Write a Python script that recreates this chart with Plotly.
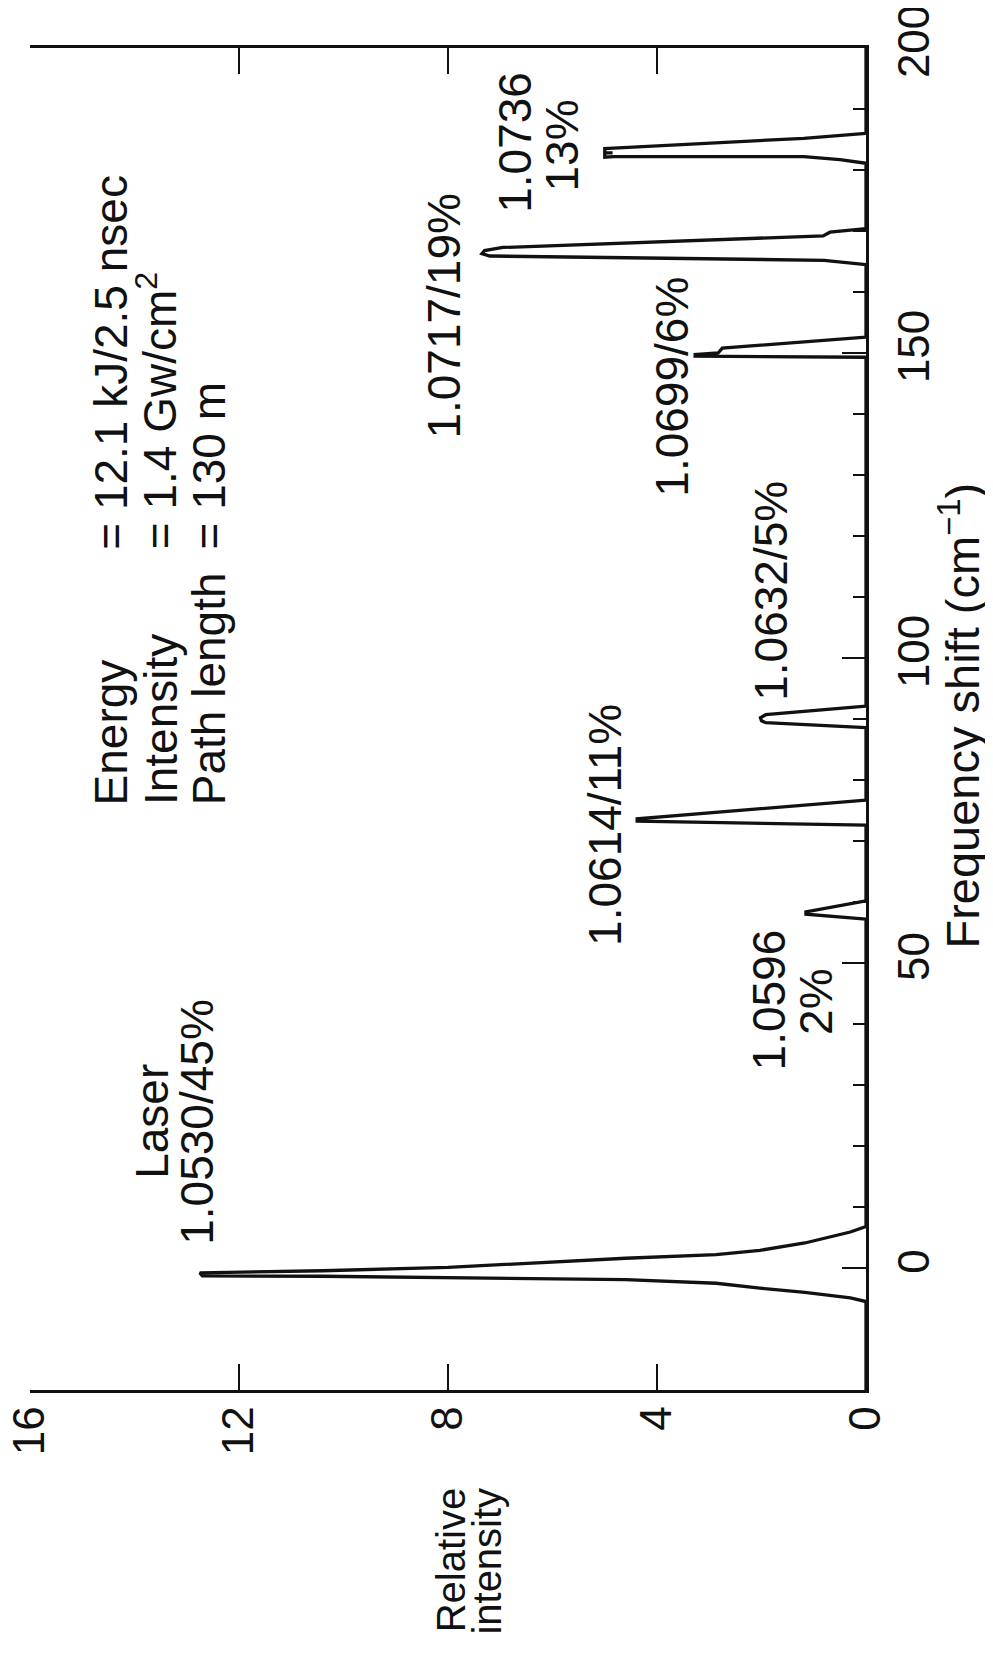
import plotly.graph_objects as go

# ---------------- data ----------------
# Spectrum trace: frequency shift (cm^-1) and relative intensity
freq = [-20, -5.5, -4.9, -4.0, -3.3, -2.5, -1.9, -1.5, -1.35, -1.3, -0.8, -0.45, 0.1, 1.6, 2.2, 2.9, 4.1, 5.9, 6.8,
        57.2, 58.0, 58.4, 60.2,
        72.6, 73.25, 73.65, 76.7,
        88.6, 89.4, 89.7, 90.2, 90.7, 92.1,
        149.3, 149.5, 149.75, 150.0, 150.8, 152.6,
        164.5, 165.2, 165.9, 166.3, 166.8, 167.3, 169.2, 169.8, 170.4,
        181.1, 181.7, 182.2, 182.2, 182.1, 182.8, 182.8, 182.8, 183.5, 183.6, 185.2, 186.0,
        200]
intensity = [0, 0, 0.3, 1.17, 2.03, 2.87, 4.6, 8.0, 10.4, 12.7, 12.75, 10.4, 8.0, 4.6, 2.87, 2.03, 1.17, 0.3, 0,
             0, 1.15, 1.15, 0,
             0, 4.38, 4.38, 0,
             0, 1.92, 2.0, 2.02, 1.92, 0,
             0, 3.27, 3.27, 2.83, 2.75, 0,
             0, 0.8, 7.2, 7.35, 7.3, 6.95, 0.82, 0.69, 0,
             0, 0.5, 1.19, 4.83, 5.0, 5.0, 4.85, 5.0, 5.0, 4.83, 1.19, 0,
             0]

intensity_ticks = [0, 4, 8, 12, 16]
intensity_ticklabels = ["0", "4", "8", "12", "16"]
freq_ticks = [0, 50, 100, 150, 200]
freq_ticklabels = ["0", "50", "100", "150", "200"]
freq_minor_ticks = [10, 20, 30, 40, 60, 70, 80, 90, 110, 120, 130, 140, 160, 170, 180, 190]

condition_labels = ["Energy", "Intensity", "Path length"]
condition_values = ["= 12.1 kJ/2.5 nsec", "= 1.4 Gw/cm<sup>2</sup>", "= 130 m"]

line_labels = ["Laser", "1.0530/45%", "1.0596", "2%", "1.0614/11%", "1.0632/5%",
               "1.0699/6%", "1.0717/19%", "1.0736", "13%"]

x_title = "Frequency shift (cm<sup>−1</sup>)"
y_title_lines = ["Relative", "intensity"]

# ---------------- figure ----------------
FONT = "Liberation Sans, Arial, Helvetica, sans-serif"
INK = "#111111"

fig = go.Figure()
fig.add_trace(go.Scatter(x=intensity, y=freq, mode="lines",
                         line=dict(color=INK, width=3.3), showlegend=False,
                         hoverinfo="skip"))

annotations = []

def rot_text(text, x, y, size=46, xanchor="center", yanchor="middle",
             xref="x", yref="y"):
    annotations.append(dict(text=text, x=x, y=y, xref=xref, yref=yref,
                            textangle=-90, showarrow=False,
                            xanchor=xanchor, yanchor=yanchor,
                            font=dict(family=FONT, size=size, color=INK)))

# conditions block (left-aligned in rotated frame -> bottom anchored)
cond_x = [14.45, 13.49, 12.57]
for lab, xv in zip(condition_labels, cond_x):
    rot_text(lab, xv, 75.5, yanchor="bottom")
val_x = [14.45, 13.58, 12.57]
for val, xv in zip(condition_values, val_x):
    rot_text(val, xv, 117.5, yanchor="bottom")

# line labels (centered)
label_pos = [(13.68, 24.0), (12.82, 24.0), (1.86, 44.0), (0.96, 43.6),
             (5.0, 72.6), (1.82, 111.0), (3.73, 144.5), (8.08, 156.1),
             (6.72, 184.6), (5.82, 184.0)]
for txt, (xv, yv) in zip(line_labels, label_pos):
    rot_text(txt, xv, yv)

# axis titles
rot_text(x_title, 1.112, 90.5, size=47, xref="paper", yref="y")
rot_text(y_title_lines[0], 7.95, -0.182, size=40, yanchor="bottom", xref="x", yref="paper")
rot_text(y_title_lines[1], 7.25, -0.184, size=40, yanchor="bottom", xref="x", yref="paper")

tickfont = dict(family=FONT, size=44, color=INK)

# the page body adds an 8 px offset, so the figure is 8 px smaller on each axis
fig.update_layout(
    width=985, height=1648,
    margin=dict(l=22, r=127, t=40, b=266, autoexpand=False),
    paper_bgcolor="white", plot_bgcolor="white",
    showlegend=False,
    annotations=annotations,
    xaxis=dict(range=[16, 0], tickmode="array", tickvals=intensity_ticks,
               ticktext=intensity_ticklabels, tickangle=-90, tickfont=tickfont,
               ticks="inside", ticklen=26, tickwidth=2, tickcolor=INK,
               showline=True, linewidth=2.5, linecolor=INK, mirror="ticks",
               showgrid=False, zeroline=False, ticklabelstandoff=-4,
               ticklabeloverflow="allow", automargin=False),
    yaxis=dict(range=[-20, 200], side="right", tickmode="array", tickvals=freq_ticks,
               ticktext=freq_ticklabels, tickangle=-90, tickfont=tickfont,
               ticks="inside", ticklen=24, tickwidth=2, tickcolor=INK,
               minor=dict(tickmode="array", tickvals=freq_minor_ticks, ticks="inside",
                          ticklen=13, tickwidth=2, tickcolor=INK),
               showline=True, linewidth=2.5, linecolor=INK,
               showgrid=False, zeroline=False, ticklabelstandoff=7,
               ticklabeloverflow="allow", automargin=False),
    yaxis2=dict(range=[-20, 200], overlaying="y", side="left", anchor="x",
                tickmode="array", tickvals=freq_ticks, showticklabels=False,
                ticks="inside", ticklen=27, tickwidth=2, tickcolor=INK,
                minor=dict(tickmode="array", tickvals=freq_minor_ticks, ticks="inside",
                           ticklen=15, tickwidth=2, tickcolor=INK),
                showline=True, linewidth=2.5, linecolor=INK,
                showgrid=False, zeroline=False, automargin=False),
)

fig.write_html("out.html")
